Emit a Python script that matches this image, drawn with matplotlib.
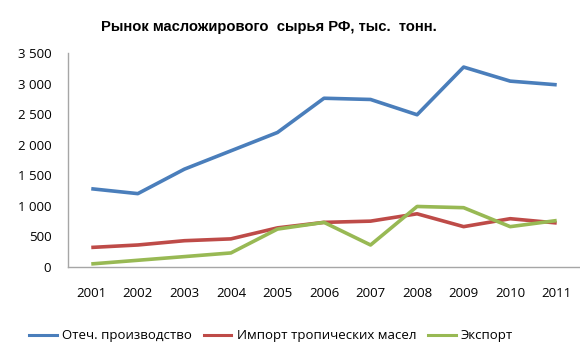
import matplotlib
matplotlib.use("Agg")
import matplotlib.pyplot as plt
from matplotlib.lines import Line2D

years = ["2001", "2002", "2003", "2004", "2005", "2006", "2007", "2008", "2009", "2010", "2011"]
domestic = [1280, 1200, 1600, 1900, 2200, 2760, 2740, 2490, 3270, 3040, 2980]
imports = [320, 360, 430, 460, 640, 730, 750, 870, 660, 790, 720]
exports = [50, 110, 170, 230, 620, 730, 360, 990, 970, 660, 760]
series_names = ["Отеч. производство", "Импорт тропических масел", "Экспорт"]
yticks = [0, 500, 1000, 1500, 2000, 2500, 3000, 3500]
ytick_labels = ["0", "500", "1 000", "1 500", "2 000", "2 500", "3 000", "3 500"]
title = "Рынок масложирового  сырья РФ, тыс.  тонн."

colors = ["#4A7EBB", "#BE4B48", "#98B954"]
font = ["Open Sans", "DejaVu Sans"]

fig = plt.figure(figsize=(5.8, 3.56), dpi=100)
ax = fig.add_axes([68 / 580, 1 - 267 / 356, 512 / 580, 214 / 356])

x = list(range(len(years)))
for vals, c in zip([domestic, imports, exports], colors):
    ax.plot(x, vals, color=c, lw=2.6, solid_joinstyle="round", solid_capstyle="butt")

ax.set_xlim(-0.5, len(years) - 0.5)
ax.set_ylim(0, 3500)
ax.set_yticks(yticks)
ax.set_yticklabels(ytick_labels, family=font, fontsize=9.5)
ax.set_xticks(x)
ax.set_xticklabels(years, family=font, fontsize=9.5)
ax.tick_params(axis="y", length=0, pad=12)
ax.tick_params(axis="x", length=0, pad=14.5)
for s in ["top", "right"]:
    ax.spines[s].set_visible(False)
for s in ["left", "bottom"]:
    ax.spines[s].set_color("#A6A6A6")
    ax.spines[s].set_linewidth(1.0)

fig.text(269 / 580, 1 - 27 / 356, title, ha="center", va="center",
         fontsize=10.6, fontweight="bold", family=["Liberation Sans", "DejaVu Sans"])

handles = [Line2D([0], [0], color=c, lw=2.2) for c in colors]
fig.legend(handles, series_names, loc="center", bbox_to_anchor=(271 / 580, 1 - 336 / 356),
           ncol=3, frameon=False, handlelength=2.1, handletextpad=0.4, columnspacing=0.9,
           prop={"family": font, "size": 9.5})

fig.savefig("out.png", dpi=100)
